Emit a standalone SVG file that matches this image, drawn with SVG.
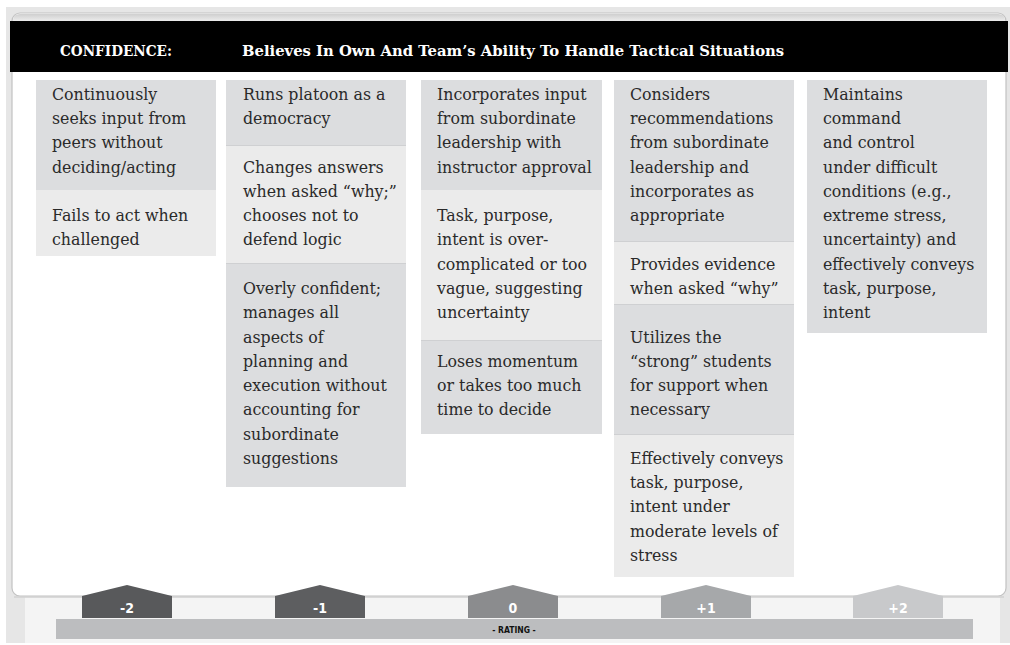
<svg xmlns="http://www.w3.org/2000/svg" width="1010" height="645" viewBox="0 0 1010 645">
  <defs>
    <style>
      .cell-dark { fill: #dcdddf; }
      .cell-light { fill: #ebebeb; }
      .sep { stroke: #cfd0d2; stroke-width: 1; }
      .body { font-family: "DejaVu Serif", "Liberation Serif", serif; font-size: 15.8px; fill: #2a2a2a; }
      .head { font-family: "DejaVu Serif", "Liberation Serif", serif; font-size: 14.8px; font-weight: bold; fill: #ffffff; }
      .tablabel { font-family: "DejaVu Sans Condensed", "DejaVu Sans", "Liberation Sans", sans-serif; font-size: 14px; font-weight: bold; fill: #ffffff; text-anchor: middle; }
      .rating { font-family: "DejaVu Sans Condensed", "DejaVu Sans", "Liberation Sans", sans-serif; font-size: 8.5px; font-weight: bold; fill: #111111; text-anchor: middle; }
    </style>
    <linearGradient id="topbevel" x1="0" y1="0" x2="0" y2="1">
      <stop offset="0" stop-color="#cfcfcf"/>
      <stop offset="1" stop-color="#ececec"/>
    </linearGradient>
  </defs>

  <!-- background -->
  <rect x="0" y="0" width="1010" height="645" fill="#ffffff"/>
  <rect x="6" y="7" width="1004" height="636" fill="#e6e6e6"/>
  <rect x="25" y="597" width="975" height="46" fill="#f4f4f4"/>

  <!-- card -->
  <g id="card">
    <rect x="12" y="13" width="994" height="583" rx="8" fill="#ffffff" stroke="#c2c2c2" stroke-width="1.2"/>
    <path d="M13,21 L13,20 Q13,14 20,14 L998,14 Q1005,14 1005,20 L1005,21 Z" fill="url(#topbevel)"/>
    <line x1="14" y1="597" x2="1004" y2="597" stroke="#d0d0d0" stroke-width="1.5"/>
  </g>

  <!-- header -->
  <g id="header">
    <rect x="10" y="21" width="998" height="51" fill="#000000"/>
    <text class="head" x="60" y="55.5" textLength="112" lengthAdjust="spacingAndGlyphs">CONFIDENCE:</text>
    <text class="head" x="242" y="55.5">Believes In Own And Team’s Ability To Handle Tactical Situations</text>
  </g>

  <!-- column -2 -->
  <g id="col-m2">
    <g id="m2-a">
      <rect class="cell-dark" x="36" y="80" width="180" height="110"/>
      <text class="body" x="52" y="99.8">Continuously<tspan x="52" dy="24.27">seeks input from</tspan><tspan x="52" dy="24.27">peers without</tspan><tspan x="52" dy="24.27">deciding/acting</tspan></text>
    </g>
    <g id="m2-b">
      <rect class="cell-light" x="36" y="190" width="180" height="66"/>
      <text class="body" x="52" y="221.2">Fails to act when<tspan x="52" dy="24.27">challenged</tspan></text>
    </g>
  </g>

  <!-- column -1 -->
  <g id="col-m1">
    <g id="m1-a">
      <rect class="cell-dark" x="226" y="80" width="180" height="65"/>
      <text class="body" x="243" y="99.8">Runs platoon as a<tspan x="243" dy="24.27">democracy</tspan></text>
    </g>
    <g id="m1-b">
      <rect class="cell-light" x="226" y="145" width="180" height="118"/>
      <line class="sep" x1="226" y1="145.5" x2="406" y2="145.5"/>
      <text class="body" x="243" y="172.6">Changes answers<tspan x="243" dy="24.27">when asked “why;”</tspan><tspan x="243" dy="24.27">chooses not to</tspan><tspan x="243" dy="24.27">defend logic</tspan></text>
    </g>
    <g id="m1-c">
      <rect class="cell-dark" x="226" y="263" width="180" height="224"/>
      <line class="sep" x1="226" y1="263.5" x2="406" y2="263.5"/>
      <text class="body" x="243" y="294">Overly confident;<tspan x="243" dy="24.27">manages all</tspan><tspan x="243" dy="24.27">aspects of</tspan><tspan x="243" dy="24.27">planning and</tspan><tspan x="243" dy="24.27">execution without</tspan><tspan x="243" dy="24.27">accounting for</tspan><tspan x="243" dy="24.27">subordinate</tspan><tspan x="243" dy="24.27">suggestions</tspan></text>
    </g>
  </g>

  <!-- column 0 -->
  <g id="col-0">
    <g id="z-a">
      <rect class="cell-dark" x="421" y="80" width="181" height="110"/>
      <text class="body" x="437" y="99.8">Incorporates input<tspan x="437" dy="24.27">from subordinate</tspan><tspan x="437" dy="24.27">leadership with</tspan><tspan x="437" dy="24.27">instructor approval</tspan></text>
    </g>
    <g id="z-b">
      <rect class="cell-light" x="421" y="190" width="181" height="150"/>
      <text class="body" x="437" y="221.2">Task, purpose,<tspan x="437" dy="24.27">intent is over-</tspan><tspan x="437" dy="24.27">complicated or too</tspan><tspan x="437" dy="24.27">vague, suggesting</tspan><tspan x="437" dy="24.27">uncertainty</tspan></text>
    </g>
    <g id="z-c">
      <rect class="cell-dark" x="421" y="340" width="181" height="94"/>
      <line class="sep" x1="421" y1="340.5" x2="602" y2="340.5"/>
      <text class="body" x="437" y="366.8">Loses momentum<tspan x="437" dy="24.27">or takes too much</tspan><tspan x="437" dy="24.27">time to decide</tspan></text>
    </g>
  </g>

  <!-- column +1 -->
  <g id="col-p1">
    <g id="p1-a">
      <rect class="cell-dark" x="614" y="80" width="180" height="161"/>
      <text class="body" x="630" y="99.8">Considers<tspan x="630" dy="24.27">recommendations</tspan><tspan x="630" dy="24.27">from subordinate</tspan><tspan x="630" dy="24.27">leadership and</tspan><tspan x="630" dy="24.27">incorporates as</tspan><tspan x="630" dy="24.27">appropriate</tspan></text>
    </g>
    <g id="p1-b">
      <rect class="cell-light" x="614" y="241" width="180" height="63"/>
      <line class="sep" x1="614" y1="241.5" x2="794" y2="241.5"/>
      <text class="body" x="630" y="269.7">Provides evidence<tspan x="630" dy="24.27">when asked “why”</tspan></text>
    </g>
    <g id="p1-c">
      <rect class="cell-dark" x="614" y="304" width="180" height="130"/>
      <line class="sep" x1="614" y1="304.5" x2="794" y2="304.5"/>
      <text class="body" x="630" y="342.5">Utilizes the<tspan x="630" dy="24.27">“strong” students</tspan><tspan x="630" dy="24.27">for support when</tspan><tspan x="630" dy="24.27">necessary</tspan></text>
    </g>
    <g id="p1-d">
      <rect class="cell-light" x="614" y="434" width="180" height="143"/>
      <line class="sep" x1="614" y1="434.5" x2="794" y2="434.5"/>
      <text class="body" x="630" y="463.9">Effectively conveys<tspan x="630" dy="24.27">task, purpose,</tspan><tspan x="630" dy="24.27">intent under</tspan><tspan x="630" dy="24.27">moderate levels of</tspan><tspan x="630" dy="24.27">stress</tspan></text>
    </g>
  </g>

  <!-- column +2 -->
  <g id="col-p2">
    <g id="p2-a">
      <rect class="cell-dark" x="807" y="80" width="180" height="253"/>
      <text class="body" x="823" y="99.8">Maintains<tspan x="823" dy="24.27">command</tspan><tspan x="823" dy="24.27">and control</tspan><tspan x="823" dy="24.27">under difficult</tspan><tspan x="823" dy="24.27">conditions (e.g.,</tspan><tspan x="823" dy="24.27">extreme stress,</tspan><tspan x="823" dy="24.27">uncertainty) and</tspan><tspan x="823" dy="24.27">effectively conveys</tspan><tspan x="823" dy="24.27">task, purpose,</tspan><tspan x="823" dy="24.27">intent</tspan></text>
    </g>
  </g>

  <!-- rating scale -->
  <g id="rating-scale">
    <rect x="56" y="619" width="917" height="20" fill="#bcbdbf"/>
    <text class="rating" x="514" y="632.5">- RATING -</text>
  </g>
  <g id="tab-m2">
    <polygon points="82,596 127,585 172,596 172,618 82,618" fill="#58595b"/>
    <text class="tablabel" x="127" y="612.5">-2</text>
  </g>
  <g id="tab-m1">
    <polygon points="275,596 320,585 365,596 365,618 275,618" fill="#5d5e60"/>
    <text class="tablabel" x="320" y="612.5">-1</text>
  </g>
  <g id="tab-0">
    <polygon points="468,596 513,585 558,596 558,618 468,618" fill="#8b8c8e"/>
    <text class="tablabel" x="513" y="612.5">0</text>
  </g>
  <g id="tab-p1">
    <polygon points="661,596 706,585 751,596 751,618 661,618" fill="#a6a8aa"/>
    <text class="tablabel" x="706" y="612.5">+1</text>
  </g>
  <g id="tab-p2">
    <polygon points="853,596 898,585 943,596 943,618 853,618" fill="#c8c9cb"/>
    <text class="tablabel" x="898" y="612.5" fill="#eeeeee">+2</text>
  </g>
</svg>
